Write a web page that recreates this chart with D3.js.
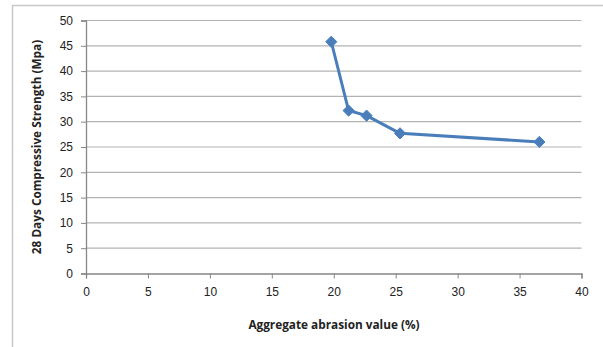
<!DOCTYPE html>
<html>
<head>
<meta charset="utf-8">
<script src="https://cdn.jsdelivr.net/npm/d3@7"></script>
<style>
  body { margin: 0; background: #fff; }
  svg { display: block; font-family: "Open Sans", "Liberation Sans", sans-serif; }
</style>
</head>
<body>
<svg id="chart" width="603" height="347"></svg>
<script>
// Data
const abrasion = [19.8, 21.2, 22.65, 25.35, 36.6];
const strength = [45.8, 32.2, 31.2, 27.7, 26.0];
const x_ticks = [0, 5, 10, 15, 20, 25, 30, 35, 40];
const y_ticks = [0, 5, 10, 15, 20, 25, 30, 35, 40, 45, 50];

const svg = d3.select("#chart");

// Plot area
const plot_left = 86, plot_right = 581.5, plot_top = 20.5, plot_bottom = 273.5;

const x = d3.scaleLinear().domain([0, 40]).range([plot_left, plot_right]);
const y = d3.scaleLinear().domain([0, 50]).range([plot_bottom, plot_top]);

// Outer chart frame (only top and left edges are visible in the crop)
svg.append("path")
    .attr("d", "M12.5,347 V5.5 H603")
    .attr("fill", "none")
    .attr("stroke", "#c8c8c8")
    .attr("stroke-width", 1.5);

// Gridlines
svg.append("g")
    .selectAll("line")
    .data(y_ticks.filter(d => d > 0))
    .enter()
    .append("line")
        .attr("x1", plot_left)
        .attr("x2", plot_right)
        .attr("y1", d => y(d))
        .attr("y2", d => y(d))
        .attr("stroke", "#b3b3b3")
        .attr("stroke-width", 1.2);

// Axes
const xAxis = d3.axisBottom(x).tickValues(x_ticks).tickSize(5).tickPadding(9);
const yAxis = d3.axisLeft(y).tickValues(y_ticks).tickSize(5).tickPadding(8);

const gx = svg.append("g")
    .attr("transform", `translate(0,${plot_bottom})`)
    .call(xAxis);
const gy = svg.append("g")
    .attr("transform", `translate(${plot_left},0)`)
    .call(yAxis);

[gx, gy].forEach(g => {
    g.select(".domain").attr("stroke", "#878787").attr("stroke-width", 1.3);
    g.selectAll(".tick line").attr("stroke", "#878787");
    g.selectAll(".tick text")
        .attr("fill", "#222")
        .style("font-size", "12px");
});

// Line
const line = d3.line()
    .x((d, i) => x(abrasion[i]))
    .y(d => y(d));

svg.append("path")
    .datum(strength)
    .attr("d", line)
    .attr("fill", "none")
    .attr("stroke", "#4a7ebb")
    .attr("stroke-width", 3)
    .attr("stroke-linejoin", "round");

// Diamond markers
svg.append("g")
    .selectAll("path")
    .data(strength)
    .enter()
    .append("path")
        .attr("d", d3.symbol().type(d3.symbolDiamond2).size(80))
        .attr("transform", (d, i) => `translate(${x(abrasion[i])},${y(d)})`)
        .attr("fill", "#4a7ebb")
        .attr("stroke", "#4a7ebb")
        .attr("stroke-width", 1);

// Axis titles
svg.append("text")
    .attr("x", 334)
    .attr("y", 329)
    .attr("text-anchor", "middle")
    .style("font-size", "11.8px")
    .style("font-weight", "bold")
    .attr("fill", "#222")
    .text("Aggregate abrasion value (%)");

svg.append("text")
    .attr("transform", "translate(41,147) rotate(-90)")
    .attr("text-anchor", "middle")
    .style("font-size", "11.8px")
    .style("font-weight", "bold")
    .attr("fill", "#222")
    .text("28 Days Compressive Strength (Mpa)");
</script>
</body>
</html>
